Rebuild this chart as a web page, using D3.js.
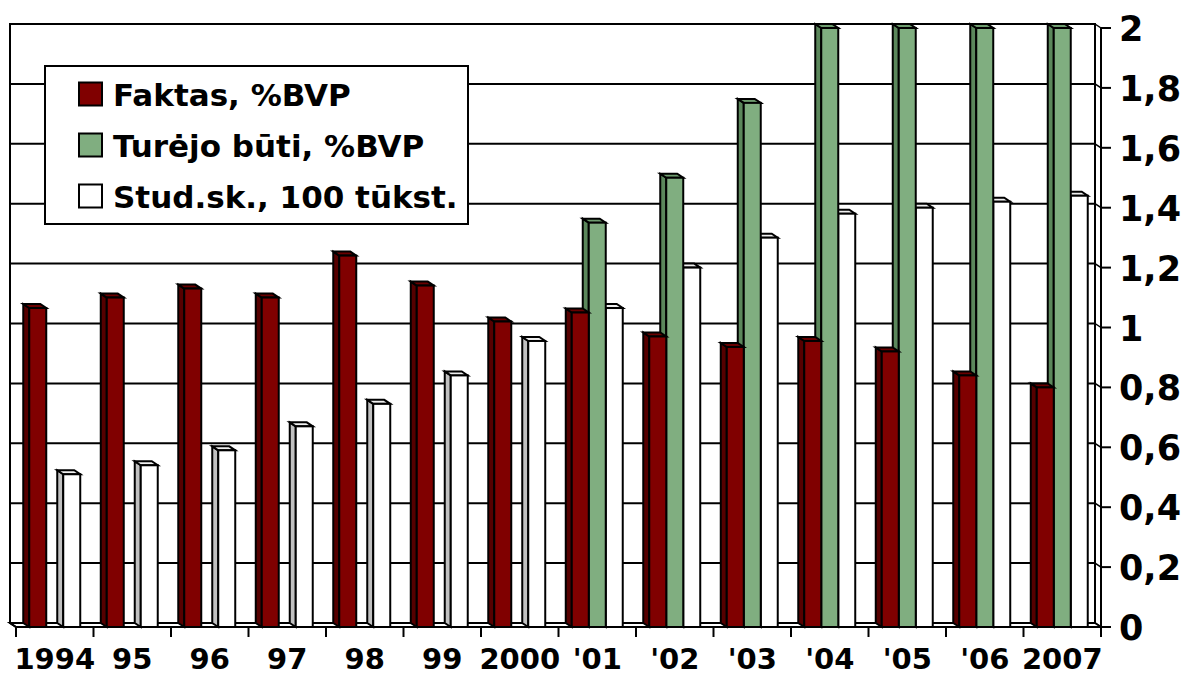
<!DOCTYPE html>
<html>
<head>
<meta charset="utf-8">
<script src="https://cdn.jsdelivr.net/npm/d3@7"></script>
<style>
  html, body { margin: 0; padding: 0; background: #fff; }
  svg { display: block; }
  text { font-family: "DejaVu Sans", Verdana, sans-serif; font-weight: bold; fill: #000; }
</style>
</head>
<body>
<svg id="chart" width="1184" height="678"></svg>
<script>
// ---- data ----
const categories = ["1994", "95", "96", "97", "98", "99", "2000", "'01", "'02", "'03", "'04", "'05", "'06", "2007"];
const seriesNames = ["Faktas, %BVP", "Turėjo būti, %BVP", "Stud.sk., 100 tūkst."];
const faktas = [1.065, 1.10, 1.13, 1.10, 1.24, 1.14, 1.02, 1.05, 0.97, 0.935, 0.955, 0.92, 0.84, 0.80];
const turejo = [null, null, null, null, null, null, null, 1.35, 1.50, 1.75, 2.0, 2.0, 2.0, 2.0];
const studsk = [0.51, 0.54, 0.59, 0.67, 0.745, 0.84, 0.955, 1.065, 1.20, 1.30, 1.38, 1.40, 1.42, 1.44];
const yTicks = [0, 0.2, 0.4, 0.6, 0.8, 1, 1.2, 1.4, 1.6, 1.8, 2];
const yTickLabels = ["0", "0,2", "0,4", "0,6", "0,8", "1", "1,2", "1,4", "1,6", "1,8", "2"];

const seriesValues = [faktas, turejo, studsk];
const colors = {
  front: ["#800000", "#80ae80", "#ffffff"],
  side:  ["#560000", "#5b875b", "#c0c0c0"],
  top:   ["#6a0000", "#6e9c6e", "#f0f0f0"]
};

// ---- layout ----
const svg = d3.select("#chart");
const X0 = 16, X1 = 1101, Y0 = 627, Y2 = 28;
const DX = -6, DY = -4;   // depth projection

const x0 = d3.scaleBand().domain(categories).range([X0, X1]).paddingInner(0).paddingOuter(0);
const x1 = d3.scaleBand().domain(d3.range(3)).range([0, x0.bandwidth()]).paddingInner(0).paddingOuter(0.78);
const y = d3.scaleLinear().domain([0, 2]).range([Y0, Y2]);

const g = svg.append("g");
const BLACK = "#000";

// back wall
g.append("rect")
  .attr("x", X0 + DX).attr("y", y(2) + DY)
  .attr("width", X1 - X0).attr("height", y(0) - y(2))
  .attr("fill", "#fff").attr("stroke", BLACK).attr("stroke-width", 2);

// gridlines on back wall + connectors on right side
yTicks.forEach(t => {
  g.append("line")
    .attr("x1", X0 + DX).attr("x2", X1 + DX)
    .attr("y1", y(t) + DY).attr("y2", y(t) + DY)
    .attr("stroke", BLACK).attr("stroke-width", 2);
  g.append("line")
    .attr("x1", X1 + DX).attr("y1", y(t) + DY)
    .attr("x2", X1).attr("y2", y(t))
    .attr("stroke", BLACK).attr("stroke-width", 1.5);
});

// floor
g.append("path")
  .attr("d", `M${X0 + DX},${Y0 + DY} L${X1 + DX},${Y0 + DY} L${X1},${Y0} L${X0},${Y0} Z`)
  .attr("fill", "#fff").attr("stroke", BLACK).attr("stroke-width", 2).attr("stroke-linejoin", "miter");

// bars (right to left within cluster for correct occlusion)
function drawBar(xl, w, v, si) {
  const yt = y(v), yb = y(0);
  const xr = xl + w;
  const grp = g.append("g").attr("stroke", BLACK).attr("stroke-width", 2).attr("stroke-linejoin", "miter");
  grp.append("path")
    .attr("d", `M${xl},${yb} L${xl + DX},${yb + DY} L${xl + DX},${yt + DY} L${xl},${yt} Z`)
    .attr("fill", colors.side[si]);
  grp.append("path")
    .attr("d", `M${xl},${yt} L${xl + DX},${yt + DY} L${xr + DX},${yt + DY} L${xr},${yt} Z`)
    .attr("fill", colors.top[si]);
  grp.append("rect")
    .attr("x", xl).attr("y", yt).attr("width", w).attr("height", yb - yt)
    .attr("fill", colors.front[si]);
}

categories.forEach((c, ci) => {
  for (let si = 2; si >= 0; si--) {
    const v = seriesValues[si][ci];
    if (v == null) continue;
    drawBar(x0(c) + x1(si), x1.bandwidth(), v, si);
  }
});

// left wall edge
g.append("path")
  .attr("d", `M${X0 + DX},${y(2) + DY} L${X0 + DX},${Y0 + DY} L${X0},${Y0}`)
  .attr("fill", "none").attr("stroke", BLACK).attr("stroke-width", 2);

// category axis line + ticks
g.append("line").attr("x1", X0).attr("x2", X1).attr("y1", Y0).attr("y2", Y0)
  .attr("stroke", BLACK).attr("stroke-width", 2);
const tickXs = categories.map(c => x0(c)).concat([X1]);
tickXs.forEach(tx => {
  g.append("line").attr("x1", tx).attr("x2", tx).attr("y1", Y0).attr("y2", Y0 + 10)
    .attr("stroke", BLACK).attr("stroke-width", 2);
});
g.selectAll("text.cat").data(categories).enter().append("text")
  .attr("class", "cat")
  .attr("x", d => x0(d) + x0.bandwidth() / 2)
  .attr("y", 669)
  .attr("text-anchor", "middle")
  .style("font-size", "29px")
  .text(d => d);

// value axis (right)
g.append("line").attr("x1", X1).attr("x2", X1).attr("y1", y(2)).attr("y2", Y0 + 10)
  .attr("stroke", BLACK).attr("stroke-width", 2);
yTicks.forEach((t, i) => {
  g.append("line").attr("x1", X1).attr("x2", X1 + 10).attr("y1", y(t)).attr("y2", y(t))
    .attr("stroke", BLACK).attr("stroke-width", 2);
  g.append("text")
    .attr("x", 1119).attr("y", y(t) + 13)
    .style("font-size", "35px")
    .text(yTickLabels[i]);
});

// legend
const lg = svg.append("g");
lg.append("rect").attr("x", 45).attr("y", 66).attr("width", 423).attr("height", 158)
  .attr("fill", "#fff").attr("stroke", BLACK).attr("stroke-width", 2);
const rowY = [94, 145, 196];
seriesNames.forEach((name, i) => {
  lg.append("rect").attr("x", 79).attr("y", rowY[i] - 11.5).attr("width", 23).attr("height", 23)
    .attr("fill", colors.front[i]).attr("stroke", BLACK).attr("stroke-width", 2);
  lg.append("text").attr("x", 113).attr("y", rowY[i] + 11.5)
    .style("font-size", "31px").text(name);
});
</script>
</body>
</html>
